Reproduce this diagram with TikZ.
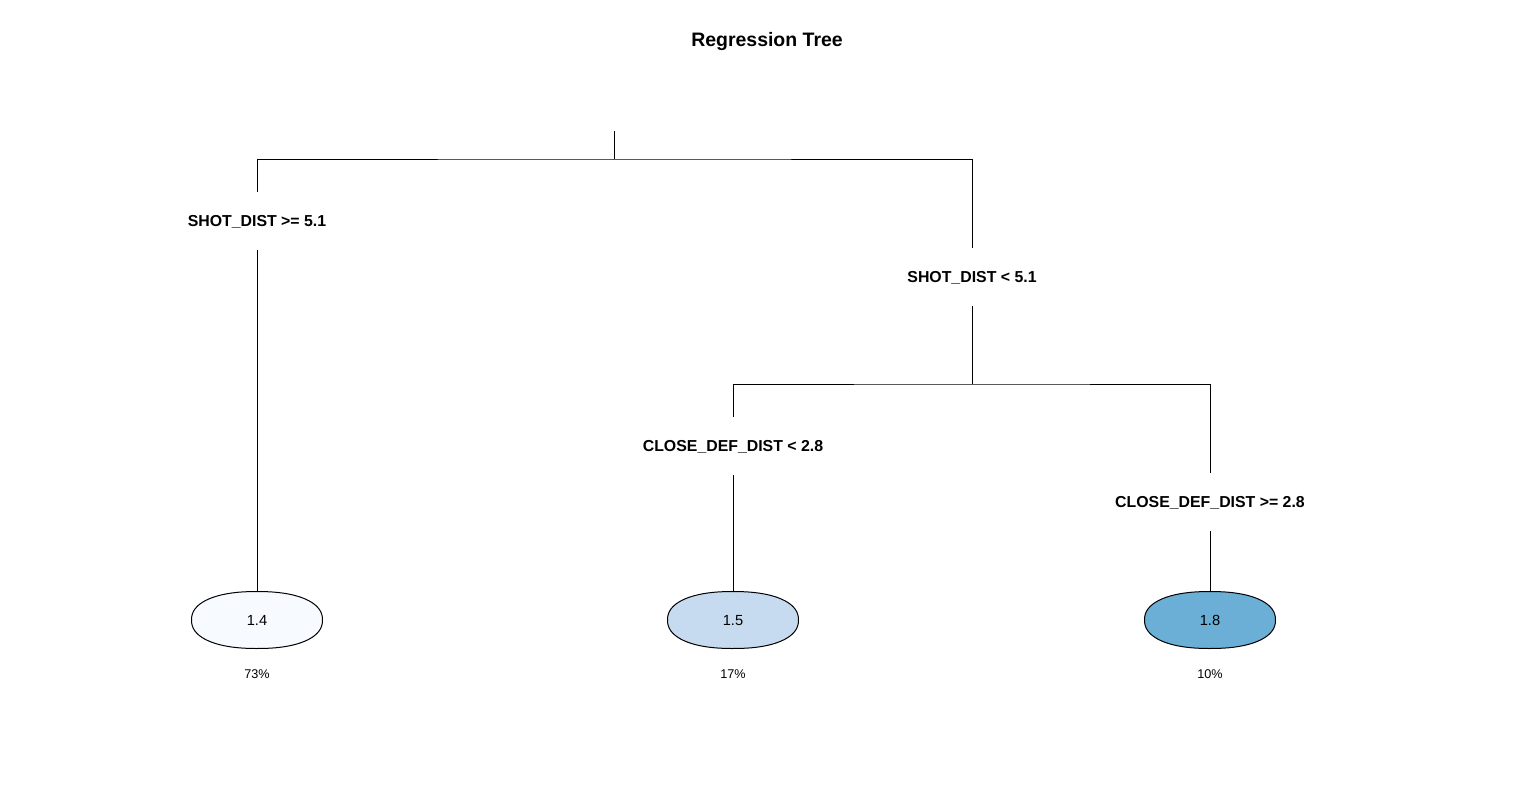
\documentclass[tikz,border=0pt]{standalone}
\usepackage{fontspec}
\setmainfont{Liberation Sans}

\definecolor{leafA}{HTML}{F7FBFF}
\definecolor{leafB}{HTML}{C6DBEF}
\definecolor{leafC}{HTML}{6BAED6}

\begin{document}
\begin{tikzpicture}[x=0.75pt,y=-0.75pt,
        split/.style={font=\fontsize{11.9}{14}\selectfont\bfseries,text height=8.5pt,text depth=0pt,minimum height=43.5pt,inner sep=0pt},
        leaf/.style={font=\fontsize{11}{13}\selectfont,text height=7.9pt,text depth=0pt,minimum width=98.25pt,minimum height=42.75pt,inner sep=0pt},
        pct/.style={font=\fontsize{9.5}{11}\selectfont,text height=6.8pt,text depth=0pt,inner sep=0pt},
        branch/.style={draw=black,line width=0.75pt}
    ]
        \useasboundingbox (0,0) rectangle (1536,801);

        % Title
        \node[font=\fontsize{14.6}{17}\selectfont\bfseries,text height=10.4pt,text depth=0pt,inner sep=0pt] (title) at (767,40) {Regression Tree};

        % Splits
        \coordinate (root) at (614,131);
        \coordinate (j0) at (614,159);
        \node[split] (s1) at (257,221) {SHOT\_DIST >= 5.1};
        \node[split] (s2) at (972,277) {SHOT\_DIST < 5.1};
        \coordinate (j1) at (972,384);
        \node[split] (s3) at (733,446) {CLOSE\_DEF\_DIST < 2.8};
        \node[split] (s4) at (1210,502) {CLOSE\_DEF\_DIST >= 2.8};

        % Leaves
        \foreach \px/\c/\v/\p/\n in {257/leafA/1.4/73/a, 733/leafB/1.5/17/b, 1210/leafC/1.8/10/c} {
            \draw[branch,fill=\c] plot[domain=0.5:360.5,samples=73]
                ({\px+65.5*cos(\x)*pow(abs(cos(\x)),-0.12)},{620+28.5*sin(\x)*pow(abs(sin(\x)),-0.12)}) -- cycle;
            \node[leaf] (l\n) at (\px,620) {\v};
            \node[pct] (p\n) at (\px,674) {\p\%};
        }

        % Branches
        \draw[branch] (root) -- (j0);
        \draw[branch] (s1.north) |- (j0) -| (s2.north);
        \draw[branch] (s1.south) -- (la.north);
        \draw[branch] (s2.south) -- (j1);
        \draw[branch] (s3.north) |- (j1) -| (s4.north);
        \draw[branch] (s3.south) -- (lb.north);
        \draw[branch] (s4.south) -- (lc.north);
    \end{tikzpicture}
\end{document}
